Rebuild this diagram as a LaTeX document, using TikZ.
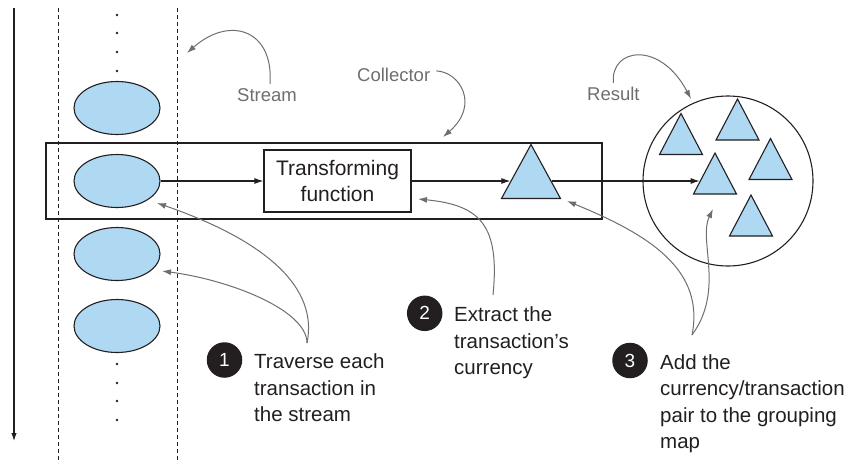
\documentclass[tikz,border=0pt]{standalone}
\usepackage{fontspec}
\setmainfont{Liberation Sans}
\usetikzlibrary{shapes.geometric,arrows.meta}
\definecolor{fillblue}{HTML}{AFD8F2}
\definecolor{lblgray}{HTML}{6D6E70}
\definecolor{ink}{HTML}{231F20}
\tikzset{
  ell/.style={ellipse,draw=ink,line width=1.1pt,fill=fillblue,minimum width=86pt,minimum height=53pt,inner sep=0pt},
  tribig/.style={isosceles triangle,isosceles triangle stretches,shape border rotate=90,draw=ink,line width=1.1pt,fill=fillblue,minimum width=59pt,minimum height=54pt,inner sep=0pt},
  trismall/.style={isosceles triangle,isosceles triangle stretches,shape border rotate=90,draw=ink,line width=1.1pt,fill=fillblue,minimum width=43pt,minimum height=41pt,inner sep=0pt},
  boxline/.style={draw=ink,line width=1.1pt},
  flow/.style={draw=ink,line width=1.1pt,-{Latex[length=9pt,width=6pt]}},
  callout/.style={draw=lblgray,line width=1pt,-{Latex[length=9pt,width=6pt]}},
  lbl/.style={text=lblgray,font=\fontsize{18.5}{22}\selectfont,inner sep=0pt,anchor=base west},
  ann/.style={font=\fontsize{20.5}{26.5}\selectfont,align=left,inner sep=0pt,anchor=north west,text=ink},
  num/.style={circle,fill=ink,minimum size=35.5pt,inner sep=0pt,text=white,font=\fontsize{19}{22}\selectfont},
  dot/.style={circle,fill=ink,minimum size=2.6pt,inner sep=0pt},
  dashv/.style={draw=ink,line width=1pt,dash pattern=on 4pt off 3pt}
}
\begin{document}
\begin{tikzpicture}[x=1pt,y=-1pt]
\useasboundingbox (0,0) rectangle (854,472);
% time axis
\coordinate (axtop) at (14,8);
\coordinate (axbot) at (14,441);
\draw[draw=ink,line width=1.1pt,-{Latex[length=8pt,width=5.5pt]}] (axtop) -- (axbot);
% stream borders
\coordinate (d1t) at (58,8); \coordinate (d1b) at (58,463);
\coordinate (d2t) at (177,8); \coordinate (d2b) at (177,463);
\draw[dashv] (d1t) -- (d1b);
\draw[dashv] (d2t) -- (d2b);
% dots
\foreach \y [count=\i] in {15,33,52,71} \node[dot] (td\i) at (117,\y) {};
\foreach \y [count=\i] in {364,383,401,420} \node[dot] (bd\i) at (117,\y) {};
% collector
\node[boxline,minimum width=556pt,minimum height=76pt,inner sep=0pt] (coll) at (324,181) {};
% ellipses
\node[ell] (e1) at (117,108) {};
\node[ell] (e2) at (117,181) {};
\node[ell] (e3) at (117,254) {};
\node[ell] (e4) at (117,326) {};
% transforming function
\node[boxline,fill=white,minimum width=147pt,minimum height=62pt,inner sep=0pt,align=center,font=\fontsize{21}{25.5}\selectfont,text=ink] (tf) at (337.5,181) {Transforming\\function};
% collector triangle
\node[tribig] (tri) at (531,181) {};
% result circle
\node[circle,draw=ink,line width=1.1pt,minimum size=170pt,inner sep=0pt] (res) at (728,181) {};
\node[trismall] (t1) at (681,141.5) {};
\node[trismall] (t2) at (737.5,127) {};
\node[trismall] (t3) at (770.5,166.5) {};
\node[trismall] (t4) at (715,181) {};
\node[trismall] (t5) at (751,223) {};
% flow arrows
\draw[flow] (e2.east) -- (tf.west);
\draw[flow] (tf.east) -- (tri);
\draw[flow] (tri) -- (t4);
% labels
\node[lbl] (lstream) at (237,101) {Stream};
\node[lbl] (lcoll) at (357,81.5) {Collector};
\node[lbl] (lres) at (587,100.5) {Result};
\coordinate (sa) at (187,53);
\coordinate (ca) at (443,137);
\coordinate (ra) at (691,99);
\draw[callout] (lstream.north -| 270,0) ++(0,-4) .. controls (274,30) and (230,15) .. (sa);
\draw[callout] (lcoll.east) ++(6,-4) .. controls (460,72) and (480,105) .. (ca);
\draw[callout] (lres.north) ++(0,-4) .. controls (610,48) and (660,40) .. (ra);
% numbered annotations
\node[num] (n1) at (224.5,360) {1};
\node[num] (n2) at (424.7,313.3) {2};
\node[num] (n3) at (630,360.5) {3};
\node[ann] (a1) at (254,353.5) {Traverse each\\transaction in\\the stream};
\node[ann] (a2) at (454,306.5) {Extract the\\transaction’s\\currency};
\node[ann] (a3) at (660,354) {Add the\\currency/transaction\\pair to the grouping\\map};
\coordinate (c1) at (307,343);
\coordinate (c2) at (493,295);
\coordinate (c3) at (692,335);
\coordinate (h1a) at (157,203);
\coordinate (h1b) at (162,271);
\coordinate (h2) at (418,199);
\coordinate (h3a) at (567,201);
\coordinate (h3b) at (713,209);
\draw[callout] (c1) .. controls (320,280) and (250,235) .. (h1a);
\draw[callout] (c1) .. controls (307,310) and (230,280) .. (h1b);
\draw[callout] (c2) .. controls (500,225) and (480,205) .. (h2);
\draw[callout] (c3) .. controls (705,270) and (650,235) .. (h3a);
\draw[callout] (c3) .. controls (725,290) and (698,240) .. (h3b);
\end{tikzpicture}
\end{document}
